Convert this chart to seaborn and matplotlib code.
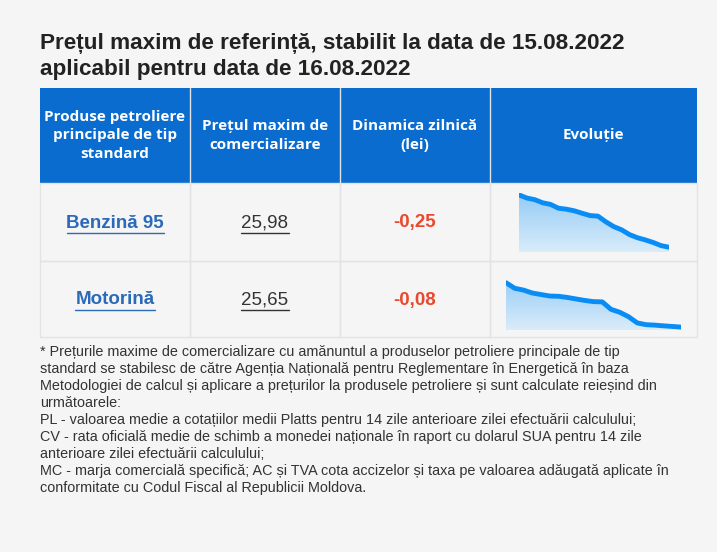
import matplotlib
matplotlib.use("Agg")
import matplotlib.pyplot as plt
import matplotlib.patches as mpatches
import numpy as np
import seaborn as sns
import pandas as pd

# ---- Data ----
PRODUCTS = ["Benzină 95", "Motorină"]
PRICES = ["25,98", "25,65"]
DYNAMICS = ["-0,25", "-0,08"]
HEADERS = ["Produse petroliere\nprincipale de tip\nstandard",
           "Prețul maxim de\ncomercializare",
           "Dinamica zilnică\n(lei)",
           "Evoluție"]
TREND_BENZINA = [60.0, 56.7, 55.0, 51.7, 50.0, 46.0, 45.0, 43.3, 40.7, 38.3, 37.7,
                 31.7, 26.7, 23.3, 18.3, 15.0, 12.7, 10.0, 6.7, 5.0]
TREND_MOTORINA = [53.3, 47.0, 45.0, 41.7, 40.0, 38.3, 38.0, 36.7, 35.0, 33.3, 32.0,
                  31.7, 23.3, 20.0, 15.0, 8.0, 6.0, 5.5, 4.7, 4.0, 3.3]

W, H = 717, 552
BG = "#f5f5f5"
BLUE = "#0a6ccf"
ARIAL = ["Liberation Sans", "DejaVu Sans"]

sns.set_theme(style="white")
plt.rcParams["font.family"] = ["Open Sans", "DejaVu Sans"]

fig = plt.figure(figsize=(W / 100, H / 100), dpi=100, facecolor=BG)
ov = fig.add_axes([0, 0, 1, 1])
ov.set_xlim(0, W)
ov.set_ylim(H, 0)
ov.axis("off")

ov.text(40, 43, "Prețul maxim de referință, stabilit la data de 15.08.2022",
        fontsize=16.2, fontweight="bold", color="#222222", va="center", family=ARIAL)
ov.text(40, 69, "aplicabil pentru data de 16.08.2022",
        fontsize=16.2, fontweight="bold", color="#222222", va="center", family=ARIAL)

cols = [40, 190, 340, 490, 697]
rows = [88, 183, 261, 337]
ov.add_patch(mpatches.Rectangle((cols[0], rows[0]), cols[-1] - cols[0], rows[1] - rows[0],
                                color=BLUE, lw=0))
for i in range(4):
    cx = (cols[i] + cols[i + 1]) / 2
    ov.text(cx, (rows[0] + rows[1]) / 2, HEADERS[i], ha="center", va="center",
            color="white", fontsize=11, fontweight="bold", linespacing=1.45)
    if i > 0:
        ov.plot([cols[i], cols[i]], [rows[0], rows[-1]], color="#e3e3e3", lw=1)
for r in range(2):
    y0, y1 = rows[r + 1], rows[r + 2]
    cy = (y0 + y1) / 2 + 1
    ov.add_patch(mpatches.Rectangle((cols[0], y0), cols[-1] - cols[0], y1 - y0,
                                    fill=False, ec="#e3e3e3", lw=1))
    c1 = (cols[0] + cols[1]) / 2
    ov.text(c1, cy, PRODUCTS[r], ha="center", va="center",
            color="#2a6ab8", fontsize=13.5, fontweight="bold", family=ARIAL)
    tw = 97 if r == 0 else 80
    ov.plot([c1 - tw / 2, c1 + tw / 2], [cy + 10, cy + 10], color="#2a6ab8", lw=1)
    c2 = (cols[1] + cols[2]) / 2
    ov.text(c2, cy, PRICES[r], ha="center", va="center",
            color="#333333", fontsize=13.5, family=ARIAL)
    ov.plot([c2 - 24, c2 + 24], [cy + 10, cy + 10], color="#333333", lw=1)
    ov.text((cols[2] + cols[3]) / 2, cy, DYNAMICS[r], ha="center", va="center",
            color="#e8492f", fontsize=13.5, fontweight="bold", family=ARIAL)
for i in range(1, 4):
    ov.plot([cols[i], cols[i]], [rows[1], rows[-1]], color="#e3e3e3", lw=1)

# sparklines
spark = [(TREND_BENZINA, 519, 669, 193, 252), (TREND_MOTORINA, 506, 681, 275, 330)]
grad = np.linspace(1, 0, 100).reshape(-1, 1)
cmap = matplotlib.colors.LinearSegmentedColormap.from_list("g", ["#d9ecfa", "#93cbf5"])
for vals, x0, x1, y0, y1 in spark:
    ax = fig.add_axes([x0 / W, 1 - y1 / H, (x1 - x0) / W, (y1 - y0) / H])
    df = pd.DataFrame({"i": range(len(vals)), "v": vals})
    poly = ax.fill_between(df["i"], df["v"], 0, color="none", lw=0)
    img = ax.imshow(grad, cmap=cmap, aspect="auto", extent=[0, len(vals) - 1, 0, 62],
                    origin="upper")
    img.set_clip_path(poly.get_paths()[0], transform=ax.transData)
    sns.lineplot(data=df, x="i", y="v", ax=ax, color="#0a8cf5", lw=3.5)
    ax.set_xlim(0, len(vals) - 1)
    ax.set_ylim(0, 62)
    ax.axis("off")
    ax.patch.set_alpha(0)

note = ("* Prețurile maxime de comercializare cu amănuntul a produselor petroliere principale de tip\n"
        "standard se stabilesc de către Agenția Națională pentru Reglementare în Energetică în baza\n"
        "Metodologiei de calcul și aplicare a prețurilor la produsele petroliere și sunt calculate reieșind din\n"
        "următoarele:\n"
        "PL - valoarea medie a cotațiilor medii Platts pentru 14 zile anterioare zilei efectuării calculului;\n"
        "CV - rata oficială medie de schimb a monedei naționale în raport cu dolarul SUA pentru 14 zile\n"
        "anterioare zilei efectuării calculului;\n"
        "MC - marja comercială specifică; AC și TVA cota accizelor și taxa pe valoarea adăugată aplicate în\n"
        "conformitate cu Codul Fiscal al Republicii Moldova.")
ov.text(40, 345, note, fontsize=10.4, color="#333333", va="top", linespacing=1.27,
        family=ARIAL)

fig.savefig("out.png", dpi=100, facecolor=BG)
